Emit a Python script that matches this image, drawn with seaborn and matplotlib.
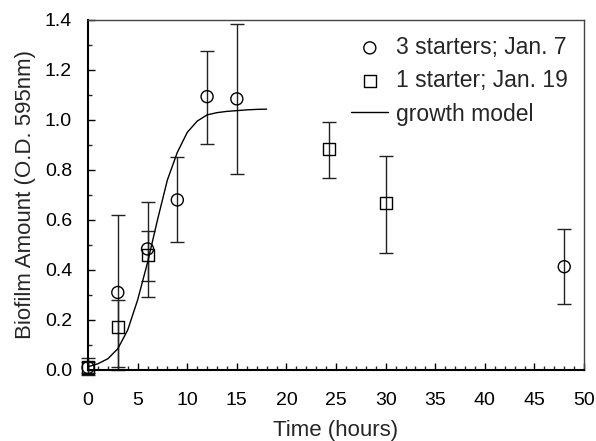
import matplotlib
matplotlib.use("Agg")
import matplotlib.pyplot as plt
import seaborn as sns
import pandas as pd
from matplotlib.ticker import MultipleLocator

# Data
t_circ = [0, 3, 6, 9, 12, 15, 48]
y_circ = [0.01, 0.31, 0.484, 0.68, 1.093, 1.084, 0.413]
lo_circ = [-0.02, 0.0, 0.29, 0.51, 0.903, 0.783, 0.263]
hi_circ = [0.048, 0.62, 0.67, 0.853, 1.275, 1.384, 0.565]

t_sq = [0, 3, 6, 24.3, 30]
y_sq = [0.01, 0.173, 0.46, 0.883, 0.669]
lo_sq = [-0.01, 0.01, 0.356, 0.767, 0.467]
hi_sq = [0.03, 0.28, 0.557, 0.99, 0.857]

t_model = list(range(0, 19))
y_model = [0.013, 0.025, 0.045, 0.085, 0.16, 0.28, 0.43, 0.60, 0.76, 0.87,
           0.95, 0.995, 1.02, 1.029, 1.034, 1.037, 1.04, 1.042, 1.043]

sns.set_style("ticks")
plt.rcParams['font.family'] = ['Liberation Sans', 'DejaVu Sans']

fig = plt.figure(figsize=(5.96, 4.41), dpi=100)
ax = fig.add_axes([0.1477, 0.161, 0.8323, 0.794])

df_m = pd.DataFrame({"t": t_model, "y": y_model})
sns.lineplot(data=df_m, x="t", y="y", ax=ax, color="black", lw=1.0,
             label="growth model", zorder=2)

# error bars
for tt, yy, lo, hi in [(t_circ, y_circ, lo_circ, hi_circ), (t_sq, y_sq, lo_sq, hi_sq)]:
    eb = ax.errorbar(tt, yy,
                     yerr=[[a - b for a, b in zip(yy, lo)], [b - a for a, b in zip(yy, hi)]],
                     fmt="none", ecolor="#222222", elinewidth=1.0, capsize=5, capthick=1.0,
                     zorder=1)
    for art in eb.lines[1] + eb.lines[2]:
        art.set_clip_on(False)

df_c = pd.DataFrame({"t": t_circ, "y": y_circ})
df_s = pd.DataFrame({"t": t_sq, "y": y_sq})
sns.scatterplot(data=df_c, x="t", y="y", ax=ax, marker="o", s=75,
                facecolor="none", edgecolor="black", linewidth=1.0,
                label="3 starters; Jan. 7", zorder=3, clip_on=False)
sns.scatterplot(data=df_s, x="t", y="y", ax=ax, marker="s", s=75,
                facecolor="none", edgecolor="black", linewidth=1.0,
                label="1 starter; Jan. 19", zorder=3, clip_on=False)

ax.set_xlim(0, 50)
ax.set_ylim(0, 1.4)
ax.xaxis.set_major_locator(MultipleLocator(5))
ax.xaxis.set_minor_locator(MultipleLocator(1))
ax.yaxis.set_major_locator(MultipleLocator(0.2))
ax.yaxis.set_minor_locator(MultipleLocator(0.1))
ax.yaxis.set_major_formatter(matplotlib.ticker.FormatStrFormatter("%.1f"))
ax.tick_params(axis="both", which="major", direction="in", length=5, width=1,
               labelsize=14, colors="black")
ax.tick_params(axis="x", which="major", pad=16)
ax.tick_params(axis="y", which="major", pad=11.5)
ax.tick_params(axis="both", which="minor", direction="in", length=3, width=1)
for sp in ["left", "bottom"]:
    ax.spines[sp].set_linewidth(1.5)
    ax.spines[sp].set_color("black")
for sp in ["top", "right"]:
    ax.spines[sp].set_visible(True)
    ax.spines[sp].set_linewidth(1.0)
    ax.spines[sp].set_color("#444444")

ax.set_xlabel("Time (hours)", fontsize=16, labelpad=8)
ax.set_ylabel("Biofilm Amount (O.D. 595nm)", fontsize=16, labelpad=6.5)

h, l = ax.get_legend_handles_labels()
order = [l.index("3 starters; Jan. 7"), l.index("1 starter; Jan. 19"), l.index("growth model")]
leg = ax.legend([h[i] for i in order], [l[i] for i in order], loc="upper right",
                frameon=False, fontsize=16.5, handlelength=1.6, handletextpad=0.35,
                labelspacing=0.45, borderaxespad=0.3)

fig.savefig("out.png", dpi=100)
